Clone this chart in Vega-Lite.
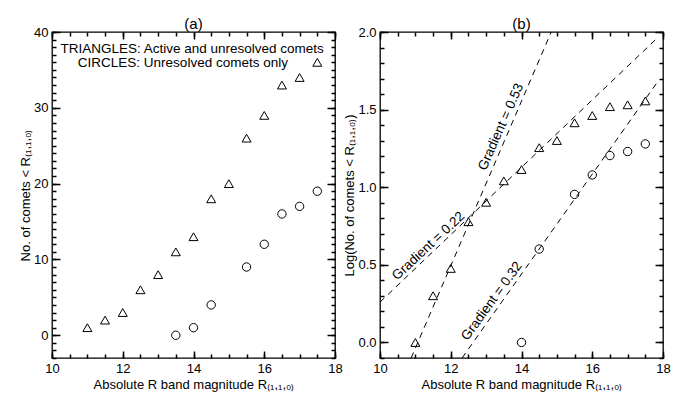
{
  "$schema": "https://vega.github.io/schema/vega-lite/v6.json",
  "padding": {"left": 18, "top": 16, "right": 5, "bottom": 0},
  "spacing": 0,
  "config": {
    "font": "Liberation Sans",
    "view": {"stroke": "black", "strokeWidth": 1.3},
    "axis": {"labelFontSize": 13, "titleFontSize": 13, "titleFontWeight": "normal", "labelColor": "black", "titleColor": "black", "grid": false, "domain": false, "tickColor": "black", "tickWidth": 1.5, "labelFlush": false},
    "title": {"fontSize": 15, "fontWeight": "normal", "font": "Liberation Sans", "offset": -6, "color": "black"},
    "text": {"font": "Liberation Sans", "fontSize": 13.5, "color": "black"}
  },
  "datasets": {
    "lin": [
      {"R": 11.0, "N": 1, "type": "tri"}, {"R": 11.5, "N": 2, "type": "tri"}, {"R": 12.0, "N": 3, "type": "tri"},
      {"R": 12.5, "N": 6, "type": "tri"}, {"R": 13.0, "N": 8, "type": "tri"}, {"R": 13.5, "N": 11, "type": "tri"},
      {"R": 14.0, "N": 13, "type": "tri"}, {"R": 14.5, "N": 18, "type": "tri"}, {"R": 15.0, "N": 20, "type": "tri"},
      {"R": 15.5, "N": 26, "type": "tri"}, {"R": 16.0, "N": 29, "type": "tri"}, {"R": 16.5, "N": 33, "type": "tri"},
      {"R": 17.0, "N": 34, "type": "tri"}, {"R": 17.5, "N": 36, "type": "tri"},
      {"R": 13.5, "N": 0, "type": "circ"}, {"R": 14.0, "N": 1, "type": "circ"}, {"R": 14.5, "N": 4, "type": "circ"},
      {"R": 15.5, "N": 9, "type": "circ"}, {"R": 16.0, "N": 12, "type": "circ"}, {"R": 16.5, "N": 16, "type": "circ"},
      {"R": 17.0, "N": 17, "type": "circ"}, {"R": 17.5, "N": 19, "type": "circ"}
    ],
    "logs": [
      {"R": 11.0, "L": 0.0, "type": "tri"}, {"R": 11.5, "L": 0.301, "type": "tri"}, {"R": 12.0, "L": 0.477, "type": "tri"},
      {"R": 12.5, "L": 0.778, "type": "tri"}, {"R": 13.0, "L": 0.903, "type": "tri"}, {"R": 13.5, "L": 1.041, "type": "tri"},
      {"R": 14.0, "L": 1.114, "type": "tri"}, {"R": 14.5, "L": 1.255, "type": "tri"}, {"R": 15.0, "L": 1.301, "type": "tri"},
      {"R": 15.5, "L": 1.415, "type": "tri"}, {"R": 16.0, "L": 1.462, "type": "tri"}, {"R": 16.5, "L": 1.519, "type": "tri"},
      {"R": 17.0, "L": 1.531, "type": "tri"}, {"R": 17.5, "L": 1.556, "type": "tri"},
      {"R": 14.0, "L": 0.0, "type": "circ"}, {"R": 14.5, "L": 0.602, "type": "circ"}, {"R": 15.5, "L": 0.954, "type": "circ"},
      {"R": 16.0, "L": 1.079, "type": "circ"}, {"R": 16.5, "L": 1.204, "type": "circ"}, {"R": 17.0, "L": 1.230, "type": "circ"},
      {"R": 17.5, "L": 1.279, "type": "circ"}
    ],
    "fits": [
      {"g": "0.22", "R": 10.0, "L": 0.26}, {"g": "0.22", "R": 17.8, "L": 1.953},
      {"g": "0.53", "R": 10.88, "L": -0.1}, {"g": "0.53", "R": 14.84, "L": 2.0},
      {"g": "0.32", "R": 12.32, "L": -0.1}, {"g": "0.32", "R": 17.85, "L": 1.68}
    ],
    "gradlabels": [
      {"g": "0.53", "R": 13.42, "L": 1.389, "t": "Gradient = 0.53"},
      {"g": "0.22", "R": 11.37, "L": 0.621, "t": "Gradient = 0.22"},
      {"g": "0.32", "R": 13.16, "L": 0.266, "t": "Gradient = 0.32"}
    ],
    "legend": [
      {"k": 1, "R": 13.96, "N": 37.75, "t": "TRIANGLES: Active and unresolved comets"},
      {"k": 2, "R": 13.70, "N": 35.9, "t": "CIRCLES: Unresolved comets only"}
    ]
  },
  "hconcat": [
    {
      "width": 283,
      "height": 326,
      "title": "(a)",
      "resolve": {"axis": {"x": "independent", "y": "independent"}},
      "layer": [
        {
          "data": {"name": "lin"},
          "transform": [{"filter": "datum.type === 'tri'"}],
          "mark": {"type": "point", "shape": "triangle-up", "size": 81, "filled": false, "stroke": "black", "strokeWidth": 1, "opacity": 1},
          "encoding": {
            "x": {"field": "R", "type": "quantitative", "scale": {"domain": [10, 18], "nice": false, "zero": false},
              "axis": {"orient": "bottom", "values": [10, 12, 14, 16, 18], "offset": -7, "tickSize": 7, "labelPadding": 4, "titlePadding": 3, "title": "Absolute R band magnitude R₍₁,₁,₀₎"}},
            "y": {"field": "N", "type": "quantitative", "scale": {"domain": [-3, 40], "nice": false, "zero": false},
              "axis": {"orient": "left", "values": [0, 10, 20, 30, 40], "offset": -8, "tickSize": 8, "labelPadding": 4, "titlePadding": 1, "title": "No. of comets < R₍₁,₁,₀₎"}}
          }
        },
        {
          "data": {"name": "lin"},
          "transform": [{"filter": "datum.type === 'circ'"}],
          "mark": {"type": "point", "shape": "circle", "size": 70, "filled": false, "stroke": "black", "strokeWidth": 1, "opacity": 1},
          "encoding": {
            "x": {"field": "R", "type": "quantitative",
              "axis": {"orient": "bottom", "values": [10, 10.5, 11, 11.5, 12, 12.5, 13, 13.5, 14, 14.5, 15, 15.5, 16, 16.5, 17, 17.5, 18], "labels": false, "title": null, "offset": -4, "tickSize": 4}},
            "y": {"field": "N", "type": "quantitative",
              "axis": {"orient": "left", "values": [-3, -2, -1, 0, 1, 2, 3, 4, 5, 6, 7, 8, 9, 10, 11, 12, 13, 14, 15, 16, 17, 18, 19, 20, 21, 22, 23, 24, 25, 26, 27, 28, 29, 30, 31, 32, 33, 34, 35, 36, 37, 38, 39, 40], "labels": false, "title": null, "offset": -4, "tickSize": 4}}
          }
        },
        {
          "data": {"name": "legend"},
          "transform": [{"filter": "datum.k === 1"}],
          "mark": {"type": "text", "align": "center", "baseline": "middle"},
          "encoding": {
            "x": {"field": "R", "type": "quantitative",
              "axis": {"orient": "top", "values": [10, 12, 14, 16, 18], "labels": false, "title": null, "offset": -7, "tickSize": 7}},
            "y": {"field": "N", "type": "quantitative",
              "axis": {"orient": "right", "values": [0, 10, 20, 30, 40], "labels": false, "title": null, "offset": -8, "tickSize": 8}},
            "text": {"field": "t"}
          }
        },
        {
          "data": {"name": "legend"},
          "transform": [{"filter": "datum.k === 2"}],
          "mark": {"type": "text", "align": "center", "baseline": "middle"},
          "encoding": {
            "x": {"field": "R", "type": "quantitative",
              "axis": {"orient": "top", "values": [10, 10.5, 11, 11.5, 12, 12.5, 13, 13.5, 14, 14.5, 15, 15.5, 16, 16.5, 17, 17.5, 18], "labels": false, "title": null, "offset": -4, "tickSize": 4}},
            "y": {"field": "N", "type": "quantitative",
              "axis": {"orient": "right", "values": [-3, -2, -1, 0, 1, 2, 3, 4, 5, 6, 7, 8, 9, 10, 11, 12, 13, 14, 15, 16, 17, 18, 19, 20, 21, 22, 23, 24, 25, 26, 27, 28, 29, 30, 31, 32, 33, 34, 35, 36, 37, 38, 39, 40], "labels": false, "title": null, "offset": -4, "tickSize": 4}},
            "text": {"field": "t"}
          }
        }
      ]
    },
    {
      "width": 283,
      "height": 326,
      "title": "(b)",
      "resolve": {"axis": {"x": "independent", "y": "independent"}},
      "layer": [
        {
          "data": {"name": "logs"},
          "transform": [{"filter": "datum.type === 'tri'"}],
          "mark": {"type": "point", "shape": "triangle-up", "size": 81, "filled": false, "stroke": "black", "strokeWidth": 1, "opacity": 1},
          "encoding": {
            "x": {"field": "R", "type": "quantitative", "scale": {"domain": [10, 18], "nice": false, "zero": false},
              "axis": {"orient": "bottom", "values": [10, 12, 14, 16, 18], "offset": -7, "tickSize": 7, "labelPadding": 4, "titlePadding": 3, "title": "Absolute R band magnitude R₍₁,₁,₀₎"}},
            "y": {"field": "L", "type": "quantitative", "scale": {"domain": [-0.1, 2.0], "nice": false, "zero": false},
              "axis": {"orient": "left", "values": [0, 0.5, 1, 1.5, 2], "format": ".1f", "offset": -8, "tickSize": 8, "labelPadding": 4, "titlePadding": 1, "title": "Log(No. of comets < R₍₁,₁,₀₎)"}}
          }
        },
        {
          "data": {"name": "logs"},
          "transform": [{"filter": "datum.type === 'circ'"}],
          "mark": {"type": "point", "shape": "circle", "size": 70, "filled": false, "stroke": "black", "strokeWidth": 1, "opacity": 1},
          "encoding": {
            "x": {"field": "R", "type": "quantitative",
              "axis": {"orient": "bottom", "values": [10, 10.5, 11, 11.5, 12, 12.5, 13, 13.5, 14, 14.5, 15, 15.5, 16, 16.5, 17, 17.5, 18], "labels": false, "title": null, "offset": -4, "tickSize": 4}},
            "y": {"field": "L", "type": "quantitative",
              "axis": {"orient": "left", "values": [-0.1, 0, 0.1, 0.2, 0.3, 0.4, 0.5, 0.6, 0.7, 0.8, 0.9, 1.0, 1.1, 1.2, 1.3, 1.4, 1.5, 1.6, 1.7, 1.8, 1.9, 2.0], "labels": false, "title": null, "offset": -4, "tickSize": 4}}
          }
        },
        {
          "data": {"name": "fits"},
          "mark": {"type": "line", "strokeDash": [6, 5], "color": "black", "strokeWidth": 1, "clip": true},
          "encoding": {
            "x": {"field": "R", "type": "quantitative",
              "axis": {"orient": "top", "values": [10, 12, 14, 16, 18], "labels": false, "title": null, "offset": -7, "tickSize": 7}},
            "y": {"field": "L", "type": "quantitative",
              "axis": {"orient": "right", "values": [0, 0.5, 1, 1.5, 2], "labels": false, "title": null, "offset": -8, "tickSize": 8}},
            "detail": {"field": "g"}
          }
        },
        {
          "data": {"name": "gradlabels"},
          "transform": [{"filter": "datum.g === '0.53'"}],
          "mark": {"type": "text", "angle": 294, "align": "center", "baseline": "middle"},
          "encoding": {
            "x": {"field": "R", "type": "quantitative",
              "axis": {"orient": "top", "values": [10, 10.5, 11, 11.5, 12, 12.5, 13, 13.5, 14, 14.5, 15, 15.5, 16, 16.5, 17, 17.5, 18], "labels": false, "title": null, "offset": -4, "tickSize": 4}},
            "y": {"field": "L", "type": "quantitative",
              "axis": {"orient": "right", "values": [-0.1, 0, 0.1, 0.2, 0.3, 0.4, 0.5, 0.6, 0.7, 0.8, 0.9, 1.0, 1.1, 1.2, 1.3, 1.4, 1.5, 1.6, 1.7, 1.8, 1.9, 2.0], "labels": false, "title": null, "offset": -4, "tickSize": 4}},
            "text": {"field": "t"}
          }
        },
        {
          "data": {"name": "gradlabels"},
          "transform": [{"filter": "datum.g === '0.22'"}],
          "mark": {"type": "text", "angle": 317, "align": "center", "baseline": "middle"},
          "encoding": {
            "x": {"field": "R", "type": "quantitative", "axis": null},
            "y": {"field": "L", "type": "quantitative", "axis": null},
            "text": {"field": "t"}
          }
        },
        {
          "data": {"name": "gradlabels"},
          "transform": [{"filter": "datum.g === '0.32'"}],
          "mark": {"type": "text", "angle": 306, "align": "center", "baseline": "middle"},
          "encoding": {
            "x": {"field": "R", "type": "quantitative", "axis": null},
            "y": {"field": "L", "type": "quantitative", "axis": null},
            "text": {"field": "t"}
          }
        }
      ]
    }
  ]
}
